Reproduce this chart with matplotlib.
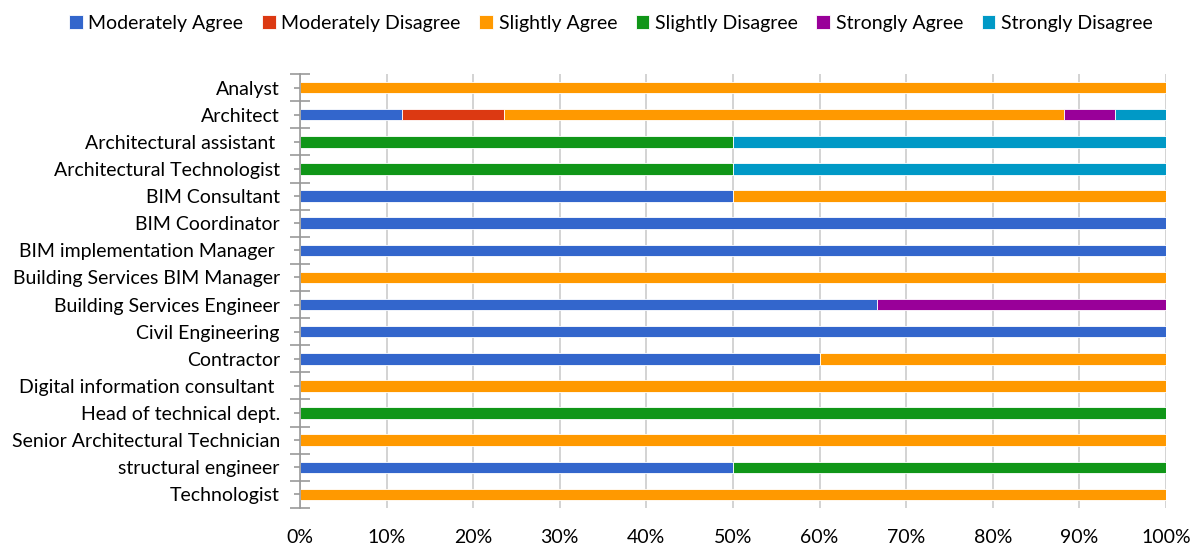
import matplotlib.pyplot as plt
from matplotlib.ticker import FixedLocator, PercentFormatter
import numpy as np

categories = ["Analyst", "Architect", "Architectural assistant ", "Architectural Technologist",
              "BIM Consultant", "BIM Coordinator", "BIM implementation Manager ",
              "Building Services BIM Manager", "Building Services Engineer", "Civil Engineering",
              "Contractor", "Digital information consultant ", "Head of technical dept.",
              "Senior Architectural Technician", "structural engineer", "Technologist"]

# percentages per response
moderately_agree    = [0, 11.76, 0, 0, 50, 100, 100, 0, 66.67, 100, 60, 0, 0, 0, 50, 0]
moderately_disagree = [0, 11.76, 0, 0, 0, 0, 0, 0, 0, 0, 0, 0, 0, 0, 0, 0]
slightly_agree      = [100, 64.71, 0, 0, 50, 0, 0, 100, 0, 0, 40, 100, 0, 100, 0, 100]
slightly_disagree   = [0, 0, 50, 50, 0, 0, 0, 0, 0, 0, 0, 0, 100, 0, 50, 0]
strongly_agree      = [0, 5.88, 0, 0, 0, 0, 0, 0, 33.33, 0, 0, 0, 0, 0, 0, 0]
strongly_disagree   = [0, 5.89, 50, 50, 0, 0, 0, 0, 0, 0, 0, 0, 0, 0, 0, 0]

series = [("Moderately Agree", moderately_agree, "#3366CC"),
          ("Moderately Disagree", moderately_disagree, "#DC3912"),
          ("Slightly Agree", slightly_agree, "#FF9900"),
          ("Slightly Disagree", slightly_disagree, "#109618"),
          ("Strongly Agree", strongly_agree, "#990099"),
          ("Strongly Disagree", strongly_disagree, "#0099C6")]

plt.rcParams['font.family'] = ['Lato', 'DejaVu Sans']

fig = plt.figure(figsize=(11.98, 5.45), dpi=100)
ax = fig.add_axes([0.2504, 0.0679, 0.7229, 0.7963])

y = np.arange(len(categories))
left = np.zeros(len(categories))
for name, vals, col in series:
    vals = np.array(vals)
    ax.barh(y, vals, left=left, height=0.42, color=col, label=name,
            edgecolor='white', linewidth=0.6, zorder=3)
    left += vals

ax.set_xlim(0, 100)
ax.set_ylim(len(categories) - 0.5, -0.5)
ax.xaxis.set_major_locator(FixedLocator(np.arange(0, 101, 10)))
ax.xaxis.set_major_formatter(PercentFormatter(decimals=0))
ax.grid(axis='x', color='#cccccc', linewidth=1.2, zorder=0)
ax.tick_params(axis='x', length=0, pad=15, labelsize=14)

ax.set_yticks(np.arange(-0.5, len(categories), 1))
ax.set_yticklabels([])
ax.set_yticks(y, minor=True)
ax.set_yticklabels(categories, minor=True)
ax.tick_params(axis='y', which='major', direction='inout', length=14, color='#999999', width=1.2)
ax.tick_params(axis='y', which='minor', direction='inout', length=9, color='#999999', width=1.2,
               pad=10, labelsize=14)

for s in ['top', 'right', 'bottom']:
    ax.spines[s].set_visible(False)
ax.spines['left'].set_color('#999999')
ax.spines['left'].set_linewidth(1.2)
ax.spines['left'].set_zorder(4)

fig.legend(loc='upper center', bbox_to_anchor=(0.51, 1.005), ncol=6, frameon=False,
           fontsize=14, handlelength=0.7, handleheight=0.7, handletextpad=0.3,
           columnspacing=0.95)

fig.savefig('out.png', dpi=100)
